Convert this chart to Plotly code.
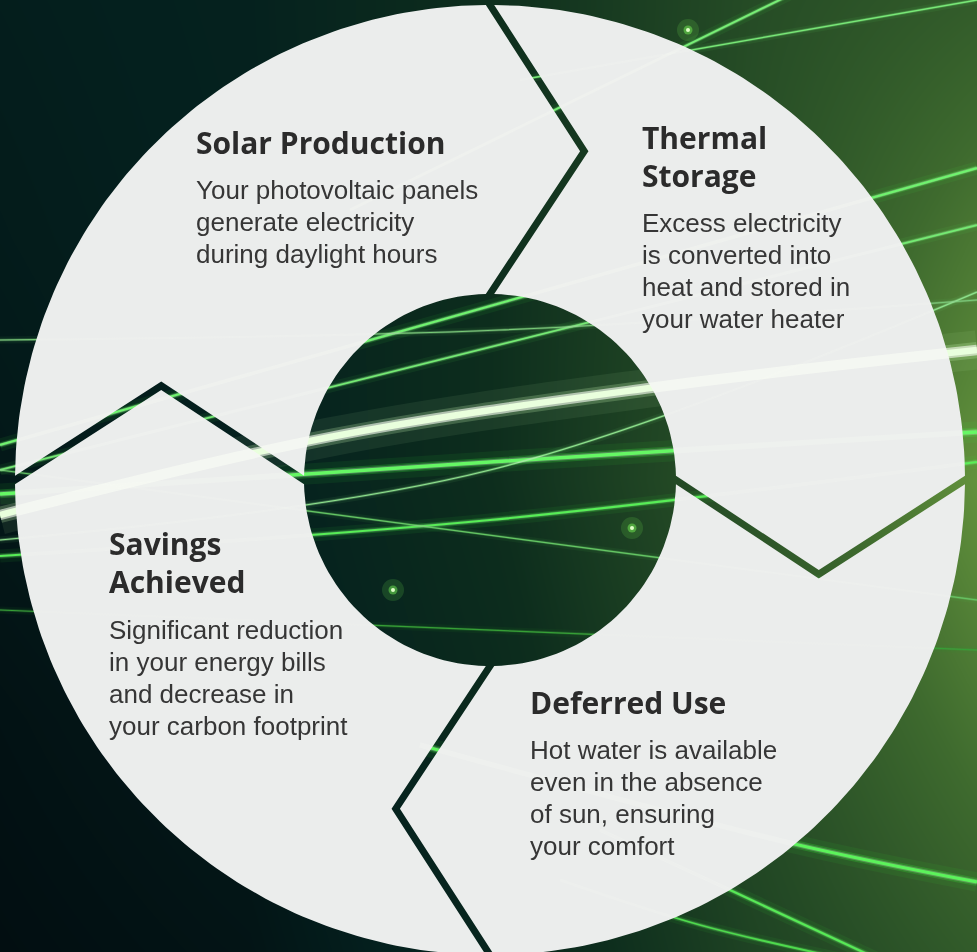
import math
import plotly.graph_objects as go

W, H = 977, 952

# ---------------- content ----------------
step_titles = [["Thermal", "Storage"], ["Deferred Use"], ["Savings", "Achieved"], ["Solar Production"]]
step_texts = [
    ["Excess electricity", "is converted into", "heat and stored in", "your water heater"],
    ["Hot water is available", "even in the absence", "of sun, ensuring", "your comfort"],
    ["Significant reduction", "in your energy bills", "and decrease in", "your carbon footprint"],
    ["Your photovoltaic panels", "generate electricity", "during daylight hours"],
]

# ---------------- layout of the cycle ring (pixels) ----------------
CENTER = (490, 480)
R_OUTER = 475
R_INNER = 186
SEPARATOR_ANGLES = [0, 90, 180, 270]   # degrees clockwise from 12 o'clock
BEND_SHIFT = 16
BEND_RADIUS = 342
GAP = 7
RING_COLOR = "#ebedec"

text_x = [640, 528, 107, 194]
title_y = [137, 702, 543, 142]
body_y = [223, 750, 630, 190]
TITLE_PITCH = 38
BODY_PITCH = 32

# ---------------- background (brightness levels) ----------------
bg_x = [0, 250, 500, 750, 977]
bg_y = [0, 240, 480, 720, 952]
bg_level = [
    [0.13, 0.17, 0.36, 0.56, 0.66],
    [0.11, 0.16, 0.36, 0.58, 0.82],
    [0.08, 0.15, 0.36, 0.62, 0.95],
    [0.03, 0.10, 0.30, 0.56, 0.80],
    [0.00, 0.05, 0.24, 0.50, 0.66],
]
bg_scale = [[0, "#020e11"], [0.15, "#04201e"], [0.35, "#0d2d1d"],
            [0.55, "#244a25"], [0.75, "#3e6a2e"], [1, "#6c9c40"]]

# light streaks (decoration)
streak_x = [
    [0, 330, 650, 977],
    [0, 490, 977],
    [0, 977],
    [0, 977],
    [0, 490, 977],
    [0, 490, 977],
    [0, 977],
    [350, 800],
    [520, 977],
    [420, 790, 977],
    [600, 730, 880],
    [560, 700, 850],
    [0, 977],
    [0, 500, 977],
]
streak_y = [
    [515, 437, 388, 350],
    [494, 462, 432],
    [445, 168],
    [470, 225],
    [540, 470, 292],
    [556, 520, 462],
    [470, 600],
    [210, -10],
    [80, 0],
    [745, 843, 882],
    [830, 890, 960],
    [880, 925, 960],
    [610, 650],
    [340, 330, 300],
]
streak_w = [6.5, 3.5, 2.2, 1.8, 1.2, 2.2, 1.2, 1.8, 1.3, 3.2, 2.2, 1.8, 1.2, 1.2]
streak_col = ["#cfffb8", "#3cf53c", "#40f040", "#52e852", "#7ae07a", "#3aeb3a", "#4fc04f",
              "#49ee49", "#60e860", "#35f035", "#39e839", "#35d835", "#2a9a2a", "#60c060"]
streak_veil = [0.6, 0.22, 0.25, 0.2, 0.15, 0.15, 0.12, 0.25, 0.15, 0.2, 0.15, 0.12, 0.06, 0.15]

spot_x = [632, 393, 688]
spot_y = [528, 590, 30]

# ---------------- geometry helpers ----------------
cx, cy = CENTER


def pt(a_deg, r):
    a = math.radians(a_deg)
    return (cx + r * math.sin(a), cy - r * math.cos(a))


def ang(p):
    return math.degrees(math.atan2(p[0] - cx, -(p[1] - cy)))


def unit(a, b):
    dx, dy = b[0] - a[0], b[1] - a[1]
    L = math.hypot(dx, dy)
    return (dx / L, dy / L)


def intersect(a1, u1, a2, u2):
    den = u1[0] * u2[1] - u1[1] * u2[0]
    t = ((a2[0] - a1[0]) * u2[1] - (a2[1] - a1[1]) * u2[0]) / den
    return (a1[0] + t * u1[0], a1[1] + t * u1[1])


def circle_hit(a, u, r, near):
    fx, fy = a[0] - cx, a[1] - cy
    b = fx * u[0] + fy * u[1]
    c = fx * fx + fy * fy - r * r
    disc = math.sqrt(max(b * b - c, 0))
    best = None
    for t in (-b - disc, -b + disc):
        p = (a[0] + t * u[0], a[1] + t * u[1])
        d = math.hypot(p[0] - near[0], p[1] - near[1])
        if best is None or d < best[0]:
            best = (d, p)
    return best[1]


def separator(a_deg, d):
    p0 = pt(a_deg, R_INNER)
    p1 = pt(a_deg + BEND_SHIFT, BEND_RADIUS)
    p2 = pt(a_deg, R_OUTER)
    u1 = unit(p0, p1)
    u2 = unit(p1, p2)
    n1 = (-u1[1], u1[0])
    n2 = (-u2[1], u2[0])
    a1 = (p0[0] + d * n1[0], p0[1] + d * n1[1])
    a2 = (p1[0] + d * n2[0], p1[1] + d * n2[1])
    bend = intersect(a1, u1, a2, u2)
    inner = circle_hit(a1, u1, R_INNER, p0)
    outer = circle_hit(a2, u2, R_OUTER, p2)
    return inner, bend, outer


def arc(r, a_from, a_to, n=90):
    return [pt(a_from + (a_to - a_from) * i / n, r) for i in range(n + 1)]


fig = go.Figure()

fig.add_trace(go.Heatmap(x=bg_x, y=bg_y, z=bg_level, colorscale=bg_scale, zmin=0, zmax=1,
                         zsmooth="best", showscale=False, hoverinfo="skip"))

# streaks behind the ring
for xs, ys, w, col in zip(streak_x, streak_y, streak_w, streak_col):
    for mult, op in ((6, 0.07), (2.5, 0.22), (1, 1.0)):
        fig.add_trace(go.Scatter(x=xs, y=ys, mode="lines", opacity=op,
                                 line=dict(color=col, width=w * mult, shape="spline", smoothing=1),
                                 hoverinfo="skip", showlegend=False))

fig.add_trace(go.Scatter(x=spot_x, y=spot_y, mode="markers", opacity=0.15,
                         marker=dict(size=22, color="#7dff5a", line=dict(width=0)),
                         hoverinfo="skip", showlegend=False))
fig.add_trace(go.Scatter(x=spot_x, y=spot_y, mode="markers", opacity=0.45,
                         marker=dict(size=9, color="#7dff5a", line=dict(width=0)),
                         hoverinfo="skip", showlegend=False))
fig.add_trace(go.Scatter(x=spot_x, y=spot_y, mode="markers",
                         marker=dict(size=4, color="#e0ffc8", line=dict(width=0)),
                         hoverinfo="skip", showlegend=False))

# ring segments (gaps between them form the chevron separators)
n = len(SEPARATOR_ANGLES)
for k in range(n):
    a_k = SEPARATOR_ANGLES[k]
    a_n = SEPARATOR_ANGLES[(k + 1) % n]
    i1, b1, o1 = separator(a_k, GAP / 2)
    i2, b2, o2 = separator(a_n, -GAP / 2)
    s, e = ang(o1), ang(o2)
    while e < s:
        e += 360
    outer = arc(R_OUTER, s, e)
    s2, e2 = ang(i2), ang(i1)
    while e2 > s2:
        e2 -= 360
    inner = arc(R_INNER, s2, e2, 40)
    poly = [i1, b1, o1] + outer + [o2, b2, i2] + inner + [i1]
    fig.add_trace(go.Scatter(x=[p[0] for p in poly], y=[p[1] for p in poly], mode="lines",
                             fill="toself", fillcolor=RING_COLOR, line=dict(width=0),
                             hoverinfo="skip", showlegend=False))

# faint light through the ring
for xs, ys, w, veil in zip(streak_x, streak_y, streak_w, streak_veil):
    fig.add_trace(go.Scatter(x=xs, y=ys, mode="lines", opacity=veil,
                             line=dict(color="#fbfff6", width=w * 1.6, shape="spline", smoothing=1),
                             hoverinfo="skip", showlegend=False))

# texts
for k in range(n):
    for j, line in enumerate(step_titles[k]):
        fig.add_annotation(x=text_x[k], y=title_y[k] + j * TITLE_PITCH, text=line,
                           xanchor="left", yanchor="middle", showarrow=False,
                           font=dict(family="Open Sans", size=30, color="#2b2b2b", weight="bold"))
    for j, line in enumerate(step_texts[k]):
        fig.add_annotation(x=text_x[k], y=body_y[k] + j * BODY_PITCH, text=line,
                           xanchor="left", yanchor="middle", showarrow=False,
                           font=dict(family="Liberation Sans, Arial", size=26, color="#363636"))

fig.update_layout(
    width=W, height=H, margin=dict(l=0, r=0, t=0, b=0),
    paper_bgcolor="#031a1b", plot_bgcolor="#031a1b",
    xaxis=dict(range=[0, W], visible=False, fixedrange=True),
    yaxis=dict(range=[H, 0], visible=False, fixedrange=True),
    showlegend=False,
)

fig.write_html("out.html", config={"displayModeBar": False},
               post_script="document.body.style.margin='0';document.body.style.background='#031a1b';")
